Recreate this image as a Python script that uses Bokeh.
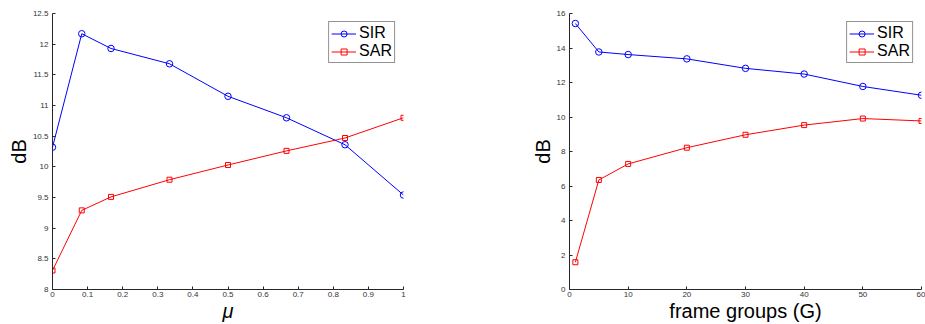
from bokeh.plotting import figure
from bokeh.layouts import row
from bokeh.models import Range1d, FixedTicker, CustomJSTickFormatter, Legend, LegendItem, ColumnDataSource
from bokeh.embed import file_html
from bokeh.resources import INLINE

# ---- data: left panel (mu) ----
mu = [0, 1/12, 1/6, 1/3, 1/2, 2/3, 5/6, 1]
sir_mu = [10.32, 12.17, 11.93, 11.68, 11.15, 10.80, 10.36, 9.54]
sar_mu = [8.31, 9.29, 9.51, 9.79, 10.03, 10.26, 10.47, 10.80]
mu_xticks = [0, 0.1, 0.2, 0.3, 0.4, 0.5, 0.6, 0.7, 0.8, 0.9, 1]
mu_yticks = [8, 8.5, 9, 9.5, 10, 10.5, 11, 11.5, 12, 12.5]

# ---- data: right panel (frame groups) ----
groups = [1, 5, 10, 20, 30, 40, 50, 60]
sir_g = [15.42, 13.77, 13.62, 13.37, 12.82, 12.49, 11.77, 11.26]
sar_g = [1.58, 6.35, 7.28, 8.22, 8.97, 9.53, 9.91, 9.77]
g_xticks = [0, 10, 20, 30, 40, 50, 60]
g_yticks = [0, 2, 4, 6, 8, 10, 12, 14, 16]

AX = "#262626"
FONT = "Liberation Sans"
fmt = CustomJSTickFormatter(code="return String(tick);")


def make_panel(x, sir, sar, xr, yr, xt, yt, xlabel, width, left, right, italic=False):
    p = figure(width=width, height=324, x_range=Range1d(*xr), y_range=Range1d(*yr),
               output_backend="svg", toolbar_location=None,
               min_border_left=left, min_border_right=right,
               min_border_top=13, min_border_bottom=34)
    p.outline_line_color = None
    p.grid.visible = False
    src = ColumnDataSource(dict(x=x, sir=sir, sar=sar))
    l1 = p.line("x", "sir", source=src, line_color="#0000ff", line_width=1)
    m1 = p.scatter("x", "sir", source=src, marker="circle", size=6.5, line_color="#0000ff",
                   fill_color=None, line_width=1)
    l2 = p.line("x", "sar", source=src, line_color="#ff0000", line_width=1)
    m2 = p.scatter("x", "sar", source=src, marker="square", size=5, line_color="#ff0000",
                   fill_color=None, line_width=1)
    for ax, ticks in ((p.xaxis[0], xt), (p.yaxis[0], yt)):
        ax.ticker = FixedTicker(ticks=ticks, minor_ticks=[])
        ax.formatter = fmt
        ax.major_tick_in = 3
        ax.major_tick_out = 0
        ax.minor_tick_line_color = None
        ax.axis_line_color = AX
        ax.major_tick_line_color = AX
        ax.major_label_text_color = "#333333"
        ax.major_label_text_font = FONT
        ax.major_label_text_font_size = "8px"
        ax.axis_label_text_font = FONT
        ax.axis_label_text_font_size = "20px"
        ax.axis_label_text_font_style = "normal"
        ax.axis_label_text_color = "#000000"
        ax.axis_label_standoff = 0
    p.xaxis.major_label_standoff = 2
    p.yaxis.major_label_standoff = 4
    p.xaxis.axis_label = xlabel
    if italic:
        p.xaxis.axis_label_text_font_style = "italic"
    p.yaxis.axis_label = "dB"
    leg = Legend(items=[LegendItem(label="SIR", renderers=[l1, m1]),
                        LegendItem(label="SAR", renderers=[l2, m2])],
                 location="top_right")
    leg.margin = 8
    leg.padding = 2
    leg.spacing = 0
    leg.glyph_width = 25
    leg.glyph_height = 15
    leg.label_height = 15
    leg.label_standoff = 3
    leg.label_text_font = FONT
    leg.label_text_font_size = "16px"
    leg.label_text_line_height = 0.8
    leg.label_text_color = "#000000"
    leg.border_line_color = AX
    leg.border_line_width = 1.5
    leg.background_fill_color = "white"
    leg.background_fill_alpha = 1
    p.add_layout(leg, "center")
    return p


p1 = make_panel(mu, sir_mu, sar_mu, (0, 1), (8, 12.5), mu_xticks, mu_yticks, "μ",
                460, 52, 57, italic=True)
p2 = make_panel(groups, sir_g, sar_g, (0, 60), (0, 16), g_xticks, g_yticks,
                "frame groups (G)", 465, 109, 4)

layout = row(p1, p2)
open("out.html", "w").write(file_html(layout, INLINE))
